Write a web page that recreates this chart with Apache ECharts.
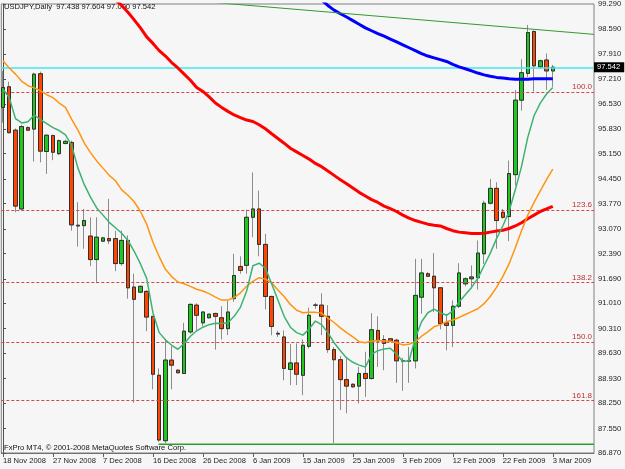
<!DOCTYPE html>
<html><head><meta charset="utf-8">
<script src="https://cdn.jsdelivr.net/npm/echarts@6/dist/echarts.min.js"></script>
<style>html,body{margin:0;padding:0;background:#f6f6f6}#c{width:625px;height:469px}</style>
</head><body><div id="c"></div>
<script>
// ---- data ----
const xTickIdx = [0, 8, 16, 24, 32, 40, 48, 56, 64, 72, 80, 88];
const xTickLabels = ['18 Nov 2008','27 Nov 2008','7 Dec 2008','16 Dec 2008','26 Dec 2008','6 Jan 2009','15 Jan 2009','25 Jan 2009','3 Feb 2009','12 Feb 2009','22 Feb 2009','3 Mar 2009'];
const yTickLabels = ['86.870','87.550','88.250','88.930','89.630','90.310','91.010','91.690','92.390','93.070','93.770','94.450','95.150','95.830','96.530','97.210','97.910','98.590','99.290'];

const opens = [96.43,97.00,95.80,93.62,95.87,95.83,97.36,95.21,95.65,95.15,
  95.43,95.46,93.17,93.16,92.87,92.22,92.73,92.80,92.80,92.11,
  92.75,91.46,91.32,91.34,90.65,89.02,87.21,89.44,89.16,89.07,
  90.22,90.96,90.47,90.61,90.73,90.61,90.31,91.14,92.03,92.06,
  93.39,93.62,92.64,91.20,90.18,90.08,89.18,89.36,89.02,89.82,
  90.96,90.96,90.65,89.73,89.45,88.90,88.77,88.72,89.07,88.93,
  90.26,90.01,90.03,89.99,89.42,89.41,89.42,91.18,91.83,91.76,
  91.44,90.47,90.40,90.93,91.55,91.69,91.72,92.38,93.78,94.19,
  93.53,93.41,94.57,96.63,97.37,98.53,97.55,97.74,97.438];
const highs = [97.44,97.14,95.85,95.95,95.91,97.39,97.42,95.68,95.68,95.54,
  95.54,95.51,93.81,93.62,93.39,93.39,92.85,93.90,93.02,93.02,
  92.89,91.83,91.50,91.37,90.66,89.21,90.01,89.82,89.19,90.47,
  91.01,91.01,90.79,90.72,90.75,90.93,91.09,92.38,92.31,93.60,
  94.63,94.13,92.93,91.22,90.25,90.26,89.88,89.90,90.01,90.89,
  91.02,91.29,90.96,89.80,89.55,89.53,88.80,89.25,89.67,90.74,
  90.65,90.13,90.05,90.03,89.50,89.80,92.24,92.24,91.87,92.40,
  91.46,90.72,91.09,92.12,91.73,92.06,92.75,93.85,94.45,94.36,
  93.62,94.96,96.91,97.76,98.71,98.56,97.75,97.92,97.604];
const lows = [96.01,95.71,93.53,93.60,95.78,94.93,94.91,94.59,94.97,95.11,
  95.41,93.02,92.58,92.52,92.04,91.57,92.71,92.65,91.90,92.05,
  91.14,88.26,91.29,90.24,88.63,87.18,87.14,88.63,89.07,89.07,
  90.17,90.26,90.38,90.59,89.73,90.01,90.13,91.05,91.83,91.83,
  92.84,92.31,90.84,90.13,90.08,88.88,88.75,88.75,88.47,89.76,
  90.86,90.13,89.64,87.14,88.06,87.97,88.68,88.24,88.42,88.90,
  89.25,89.16,89.95,88.81,88.59,88.81,89.21,90.72,91.74,90.77,
  90.29,89.71,89.80,90.88,91.48,91.42,91.39,92.10,93.74,92.52,
  93.35,92.73,94.27,96.34,97.27,96.87,97.50,96.91,97.000];
const closes = [96.98,95.73,93.70,95.90,95.80,97.35,95.22,95.66,95.19,95.51,
  95.49,93.18,93.15,93.30,92.22,92.84,92.82,92.74,92.11,92.75,
  91.44,91.12,91.48,90.63,89.05,87.23,89.44,89.30,89.09,90.24,
  90.98,90.68,90.77,90.71,90.65,90.31,90.77,91.78,91.92,93.39,
  93.62,92.64,91.20,90.37,90.16,89.21,89.36,89.05,89.85,90.68,
  90.96,90.65,89.73,89.45,88.90,88.72,88.70,89.07,88.93,90.28,
  89.97,89.90,89.97,89.42,89.41,89.43,91.23,91.85,91.76,91.44,
  90.45,90.40,90.93,91.85,91.69,91.74,92.40,93.78,94.19,93.30,
  93.39,94.60,96.63,97.39,98.50,97.58,97.72,97.44,97.542];

const maFast = [96.94,96.70,96.12,96.00,96.03,96.22,96.09,95.98,95.87,95.79,
  95.67,95.37,94.75,94.30,93.95,93.65,93.45,93.25,93.10,92.95,
  92.75,92.45,92.10,91.70,90.75,90.20,90.00,89.85,89.74,89.90,
  90.10,90.25,90.35,90.42,90.46,90.45,90.47,90.65,90.90,91.35,
  92.05,92.12,91.98,91.55,91.10,90.65,90.35,90.20,90.13,90.30,
  90.52,90.42,90.20,89.92,89.70,89.50,89.38,89.30,89.25,89.60,
  89.70,89.75,89.77,89.60,89.40,89.42,90.05,90.50,90.75,90.85,
  90.75,90.68,90.80,91.05,91.25,91.45,91.70,92.05,92.40,92.80,
  93.15,93.55,94.15,94.80,95.60,96.20,96.55,96.80,96.98];
const maSlow = [97.72,97.52,97.35,97.15,97.03,96.97,96.89,96.78,96.70,96.55,
  96.43,96.10,95.80,95.45,95.18,94.95,94.75,94.55,94.40,94.15,
  94.00,93.82,93.55,93.20,92.70,92.30,91.95,91.75,91.60,91.55,
  91.48,91.40,91.35,91.28,91.18,91.10,91.10,91.17,91.30,91.48,
  91.62,91.72,91.68,91.58,91.38,91.20,90.98,90.82,90.75,90.76,
  90.76,90.74,90.60,90.48,90.33,90.20,90.08,89.95,89.92,89.97,
  89.98,89.97,89.96,89.92,89.86,89.88,89.95,90.10,90.22,90.36,
  90.42,90.50,90.55,90.62,90.70,90.78,90.86,91.00,91.20,91.45,
  91.75,92.10,92.55,93.02,93.45,93.80,94.12,94.43,94.72];
const sma100Start = 16;
const sma100 = [99.75,99.55,99.40,99.25,99.06,98.85,98.63,98.38,98.20,98.00,
  97.85,97.67,97.52,97.35,97.18,96.98,96.87,96.72,96.55,96.43,
  96.32,96.22,96.15,96.08,96.04,95.95,95.84,95.70,95.57,95.44,
  95.30,95.20,95.10,95.00,94.88,94.79,94.67,94.55,94.43,94.32,
  94.20,94.08,93.98,93.88,93.80,93.70,93.63,93.55,93.45,93.37,
  93.30,93.25,93.20,93.17,93.15,93.08,93.02,92.98,92.96,92.94,
  92.94,92.95,92.98,93.01,93.03,93.08,93.15,93.24,93.35,93.45,
  93.55,93.62,93.69];
const sma200Start = 50;
const sma200 = [99.60,99.40,99.25,99.12,99.02,98.93,98.83,98.73,98.63,98.55,
  98.47,98.40,98.32,98.24,98.16,98.08,98.00,97.92,97.85,97.80,
  97.75,97.70,97.62,97.55,97.50,97.44,97.38,97.33,97.29,97.26,
  97.24,97.22,97.21,97.21,97.21,97.22,97.22,97.22,97.22];

const fibLevels = [96.85, 93.59, 91.58, 89.94, 88.32];
const fibLabels = ['100.0', '123.6', '138.2', '150.0', '161.8'];
const bidPrice = 97.542;
const trendTop = [[25, 99.46], [94.6, 98.45]];
const supportLine = [[24.9, 87.11], [94.6, 87.11]];
const header = 'USDJPY,Daily  97.438 97.604 97.000 97.542';
const footer = 'FxPro MT4, \u00a9 2001-2008 MetaQuotes Software Corp.';

// ---- chart ----
const FONT = "'Liberation Sans',Arial,sans-serif";
const FS = 7.6;
const candleFull = opens.map((o, i) => [i, o, closes[i], lows[i], highs[i]]);
const candleBody = opens.map((o, i) => [i, o, closes[i], Math.min(o, closes[i]), Math.max(o, closes[i])]);
const toXY = (arr, start) => arr.map((v, k) => [start + k, v]);
const yNums = yTickLabels.map(Number);

const chart = echarts.init(document.getElementById('c'), null, {renderer: 'canvas'});
const lineBase = {type: 'line', showSymbol: false, silent: true, animation: false, z: 5};
chart.setOption({
  animation: false,
  backgroundColor: '#f6f6f6',
  textStyle: {fontFamily: FONT},
  grid: {left: 1, right: 31, top: 3, bottom: 16, show: true, borderColor: '#808080', borderWidth: 1, backgroundColor: 'transparent'},
  xAxis: {
    type: 'value', min: -0.27, max: 94.6,
    axisLine: {show: true, lineStyle: {color: '#707070', width: 1}},
    axisTick: {show: true, customValues: xTickIdx, length: 4, lineStyle: {color: '#606060'}},
    axisLabel: {customValues: xTickIdx, align: 'left', margin: 4, fontSize: FS, color: '#222', fontFamily: FONT,
      showMinLabel: true, showMaxLabel: true, hideOverlap: false,
      formatter: v => { const k = xTickIdx.indexOf(v); return k >= 0 ? xTickLabels[k] : ''; }},
    splitLine: {show: false}
  },
  yAxis: {
    type: 'value', position: 'right', min: 86.87, max: 99.29, scale: true,
    axisLine: {show: true, lineStyle: {color: '#505050', width: 1}},
    axisTick: {show: true, customValues: yNums, length: 3, lineStyle: {color: '#505050'}},
    axisLabel: {customValues: yNums, margin: 4, fontSize: FS, color: '#222', fontFamily: FONT,
      showMinLabel: true, showMaxLabel: true,
      formatter: v => v.toFixed(3)},
    splitLine: {show: false}
  },
  graphic: [
    {type: 'text', left: 4, top: 3, silent: true, style: {text: header, font: FS + 'px ' + FONT, fill: '#111'}},
    {type: 'text', left: 4, top: 444, silent: true, style: {text: footer, font: FS + 'px ' + FONT, fill: '#111'}}
  ],
  series: [
    {type: 'candlestick', name: 'wick', data: candleFull, encode: {x: 0, y: [1, 2, 3, 4]}, barWidth: 4,
      silent: true, animation: false, z: 2,
      itemStyle: {color: '#1ec81e', color0: '#ff4500', borderColor: '#8c8c8c', borderColor0: '#8c8c8c', borderWidth: 1}},
    {type: 'candlestick', name: 'body', data: candleBody, encode: {x: 0, y: [1, 2, 3, 4]}, barWidth: 4,
      silent: true, animation: false, z: 3,
      itemStyle: {color: '#1ec81e', color0: '#ff4500', borderColor: '#303030', borderColor0: '#303030', borderWidth: 1}},
    Object.assign({}, lineBase, {name: 'sma100', data: toXY(sma100, sma100Start), lineStyle: {color: '#ff0000', width: 3}}),
    Object.assign({}, lineBase, {name: 'sma200', data: toXY(sma200, sma200Start), lineStyle: {color: '#0000ff', width: 3}}),
    Object.assign({}, lineBase, {name: 'maSlow', data: toXY(maSlow, 0), lineStyle: {color: '#ff9410', width: 1.5}}),
    Object.assign({}, lineBase, {name: 'maFast', data: toXY(maFast, 0), lineStyle: {color: '#3cb371', width: 1.5}}),
    Object.assign({}, lineBase, {name: 'trend', data: trendTop, lineStyle: {color: '#339933', width: 1}}),
    Object.assign({}, lineBase, {name: 'support', data: supportLine, lineStyle: {color: '#2ca02c', width: 1.5}, z: 1,
      markLine: {
        silent: true, symbol: 'none', animation: false,
        data: fibLevels.map((lv, k) => ({
          yAxis: lv,
          lineStyle: {color: '#d04848', type: [3, 2], width: 1},
          label: {show: true, position: 'insideEndTop', formatter: fibLabels[k], color: '#c03030', fontSize: FS + 0.4, fontFamily: FONT, distance: [2, 1]}
        })).concat([{
          yAxis: bidPrice,
          lineStyle: {color: '#40e8f0', type: 'solid', width: 1.5},
          label: {show: true, position: 'end', formatter: bidPrice.toFixed(3), color: '#fff', backgroundColor: '#000',
            padding: [1, 4, 1, 3], fontSize: FS, fontFamily: FONT, distance: 0}
        }])
      }})
  ]
});
</script>
</body></html>
